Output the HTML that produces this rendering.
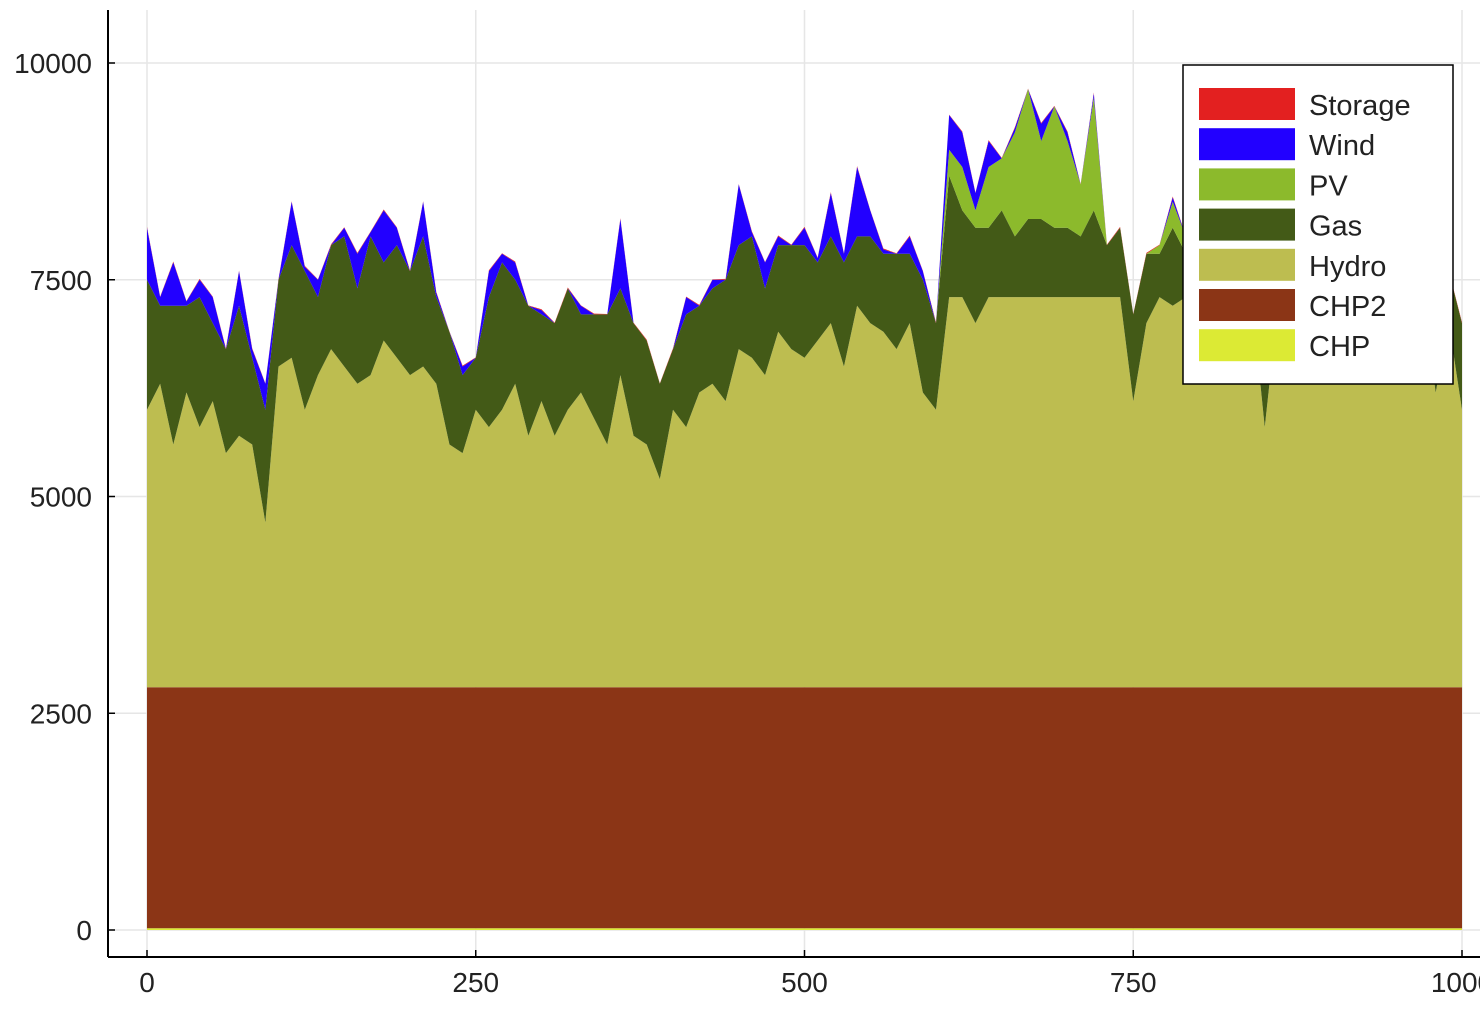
<!DOCTYPE html>
<html><head><meta charset="utf-8"><style>
html,body{margin:0;padding:0;background:#fff;}
svg{display:block;font-family:"Liberation Sans",sans-serif;}
</style></head><body>
<svg id="chart" width="1480" height="1012" viewBox="0 0 1480 1012">
<g id="grid"></g>
<g id="areas"></g>
<g id="axes"></g>
<g id="legend"></g>
</svg>
<script>
const xTicks = [0, 250, 500, 750, 1000];
const yTicks = [0, 2500, 5000, 7500, 10000];
const seriesNames = ["Storage","Wind","PV","Gas","Hydro","CHP2","CHP"];
const seriesColors = ["#e32020","#2200ff","#8cba2c","#435a17","#bdbd50","#8b3516","#dcea34"];
const xs = [0,10,20,30,40,50,60,70,80,90,100,110,120,130,140,150,160,170,180,190,200,210,220,230,240,250,260,270,280,290,300,310,320,330,340,350,360,370,380,390,400,410,420,430,440,450,460,470,480,490,500,510,520,530,540,550,560,570,580,590,600,610,620,630,640,650,660,670,680,690,700,710,720,730,740,750,760,770,780,790,800,810,820,830,840,850,860,870,880,890,900,910,920,930,940,950,960,970,980,990,1000];
const chpValues = [20,20,20,20,20,20,20,20,20,20,20,20,20,20,20,20,20,20,20,20,20,20,20,20,20,20,20,20,20,20,20,20,20,20,20,20,20,20,20,20,20,20,20,20,20,20,20,20,20,20,20,20,20,20,20,20,20,20,20,20,20,20,20,20,20,20,20,20,20,20,20,20,20,20,20,20,20,20,20,20,20,20,20,20,20,20,20,20,20,20,20,20,20,20,20,20,20,20,20,20,20];
const chp2Values = [2780,2780,2780,2780,2780,2780,2780,2780,2780,2780,2780,2780,2780,2780,2780,2780,2780,2780,2780,2780,2780,2780,2780,2780,2780,2780,2780,2780,2780,2780,2780,2780,2780,2780,2780,2780,2780,2780,2780,2780,2780,2780,2780,2780,2780,2780,2780,2780,2780,2780,2780,2780,2780,2780,2780,2780,2780,2780,2780,2780,2780,2780,2780,2780,2780,2780,2780,2780,2780,2780,2780,2780,2780,2780,2780,2780,2780,2780,2780,2780,2780,2780,2780,2780,2780,2780,2780,2780,2780,2780,2780,2780,2780,2780,2780,2780,2780,2780,2780,2780,2780];
const hydroTop = [6000,6300,5600,6200,5800,6100,5500,5700,5600,4700,6500,6600,6000,6400,6700,6500,6300,6400,6800,6600,6400,6500,6300,5600,5500,6000,5800,6000,6300,5700,6100,5700,6000,6200,5900,5600,6400,5700,5600,5200,6000,5800,6200,6300,6100,6700,6600,6400,6900,6700,6600,6800,7000,6500,7200,7000,6900,6700,7000,6200,6000,7300,7300,7000,7300,7300,7300,7300,7300,7300,7300,7300,7300,7300,7300,6100,7000,7300,7200,7300,7300,7300,7300,7000,7300,5800,7200,7300,7300,7300,7300,6700,7300,7300,7300,6900,7300,7300,6200,7000,6000];
const gasValues = [1500,900,1600,1000,1500,900,1200,1500,1000,1300,1000,1300,1600,900,1200,1500,1100,1600,900,1300,1200,1500,1000,1300,900,600,1500,1700,1200,1500,1000,1300,1400,900,1200,1500,1000,1300,1200,1100,700,1300,1000,1100,1400,1200,1400,1000,1000,1200,1300,900,1000,1200,800,1000,900,1100,800,1300,1000,1400,1000,1100,800,1000,700,900,900,800,800,700,1000,600,800,1000,800,500,900,500,800,400,700,900,400,1100,500,400,900,600,500,1000,400,700,600,800,500,700,900,600,1000];
const pvValues = [0,0,0,0,0,0,0,0,0,0,0,0,0,0,0,0,0,0,0,0,0,0,0,0,0,0,0,0,0,0,0,0,0,0,0,0,0,0,0,0,0,0,0,0,0,0,0,0,0,0,0,0,0,0,0,0,0,0,0,0,0,300,500,200,700,600,1200,1500,900,1400,1000,600,1300,0,0,0,0,100,300,200,0,0,0,0,0,0,0,0,0,0,0,0,0,0,0,0,0,0,0,0,0];
const windValues = [600,100,500,50,200,300,0,400,100,300,0,500,50,200,0,100,400,50,600,200,0,400,50,0,100,0,300,100,200,0,50,0,0,100,0,0,800,0,0,0,0,200,0,100,0,700,50,300,100,0,200,50,500,100,800,300,50,0,200,100,0,400,400,200,300,0,50,0,200,0,100,0,50,0,0,0,0,0,50,0,0,0,0,0,0,0,0,0,0,0,0,0,0,0,0,0,0,0,0,0,0];
const storageValues = [10,5,10,5,10,5,10,5,10,5,10,5,10,5,10,5,10,5,10,5,10,5,10,5,10,5,10,5,10,5,10,5,10,5,10,5,10,5,10,5,10,5,10,5,10,5,10,5,10,5,10,5,10,5,10,5,10,5,10,5,10,5,10,5,10,5,10,5,10,5,10,5,10,5,10,5,10,5,10,5,10,5,10,5,10,5,10,5,10,5,10,5,10,5,10,5,10,5,10,5,10];

const NS = "http://www.w3.org/2000/svg";
function sx(v){ return 147 + (v/1000)*(1462-147); }
function sy(v){ return 930 - (v/10000)*(930-63); }
function mk(tag, attrs, parent){ const e=document.createElementNS(NS,tag); for(const k in attrs) e.setAttribute(k,attrs[k]); parent.appendChild(e); return e; }

const grid=document.getElementById('grid'), axes=document.getElementById('axes'), areas=document.getElementById('areas'), legend=document.getElementById('legend');

xTicks.forEach(t=>{
  const l=mk('line',{x1:sx(t),x2:sx(t),y1:10,y2:957,stroke:'#e6e6e6','stroke-width':1.5},grid);
  
  
  const tk=mk('line',{x1:sx(t),x2:sx(t),y1:957,y2:950,stroke:'#000','stroke-width':1.5},axes);
  
  
  const tx=mk('text',{x:sx(t),y:992,'font-size':28,'text-anchor':'middle',fill:'#222'},axes);
  tx.textContent=t;
  
  
});
yTicks.forEach(t=>{
  const l=mk('line',{x1:108,x2:1480,y1:sy(t),y2:sy(t),stroke:'#e6e6e6','stroke-width':1.5},grid);
  
  
  const tk=mk('line',{x1:108,x2:115,y1:sy(t),y2:sy(t),stroke:'#000','stroke-width':1.5},axes);
  
  
  const tx=mk('text',{x:92,y:sy(t)+10,'font-size':28,'text-anchor':'end',fill:'#222'},axes);
  tx.textContent=t;
  
  
});
const ax1=mk('line',{x1:108,x2:108,y1:10,y2:957,stroke:'#000','stroke-width':2},axes);


const ax2=mk('line',{x1:108,x2:1480,y1:957,y2:957,stroke:'#000','stroke-width':2},axes);



const hydroValues = hydroTop.map((v,i)=>v-chpValues[i]-chp2Values[i]);
const stackOrder = [
  ['CHP',chpValues,'#dcea34'],
  ['CHP2',chp2Values,'#8b3516'],
  ['Hydro',hydroValues,'#bdbd50'],
  ['Gas',gasValues,'#435a17'],
  ['PV',pvValues,'#8cba2c'],
  ['Wind',windValues,'#2200ff'],
  ['Storage',storageValues,'#e32020']
];
let base = xs.map(()=>0);
stackOrder.forEach(([name,vals,col])=>{
  const top = base.map((b,i)=>b+vals[i]);
  let pts = xs.map((x,i)=>sx(x)+','+sy(top[i]));
  for(let i=xs.length-1;i>=0;i--) pts.push(sx(xs[i])+','+sy(base[i]));
  const p=mk('polygon',{points:pts.join(' '),fill:col},areas);
  
  
  base = top;
});

const lb=mk('rect',{x:1183,y:65,width:270,height:319,fill:'#fff',stroke:'#000','stroke-width':1.5},legend);


seriesNames.forEach((n,i)=>{
  const y=104+i*40.2;
  const r=mk('rect',{x:1199,y:y-16,width:96,height:32,fill:seriesColors[i]},legend);
  
  
  const t=mk('text',{x:1309,y:y+11,'font-size':29,fill:'#222'},legend);
  t.textContent=n;
  
  
});
</script>
</body></html>
